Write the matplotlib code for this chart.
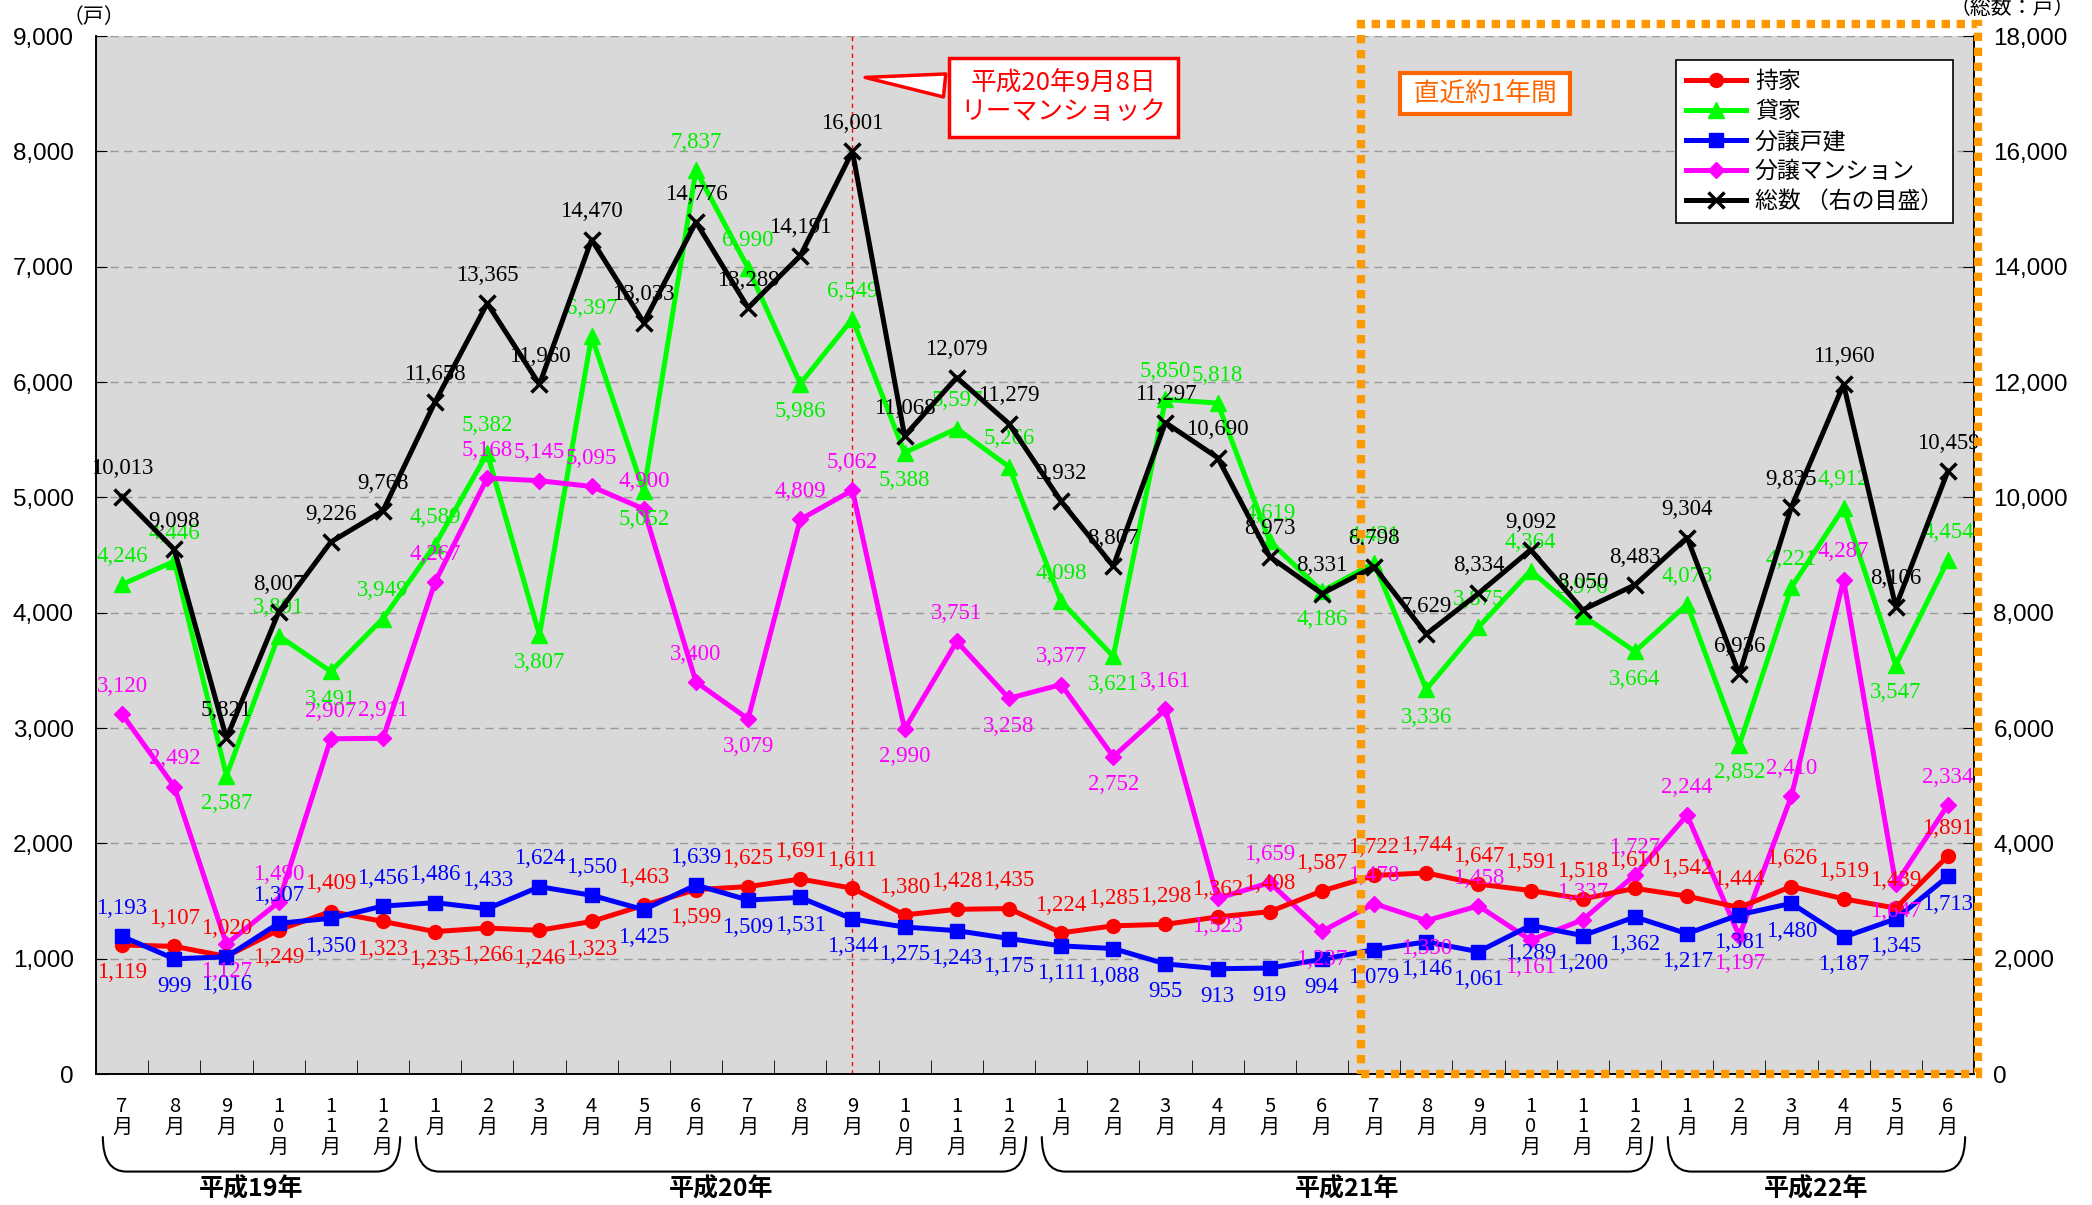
import numpy as np
import matplotlib
matplotlib.use('Agg')
import matplotlib.pyplot as plt
import matplotlib.transforms as mtransforms
from matplotlib.path import Path
from matplotlib.patches import PathPatch, Rectangle
from matplotlib.ticker import FuncFormatter, FixedLocator

plt.rcParams['font.family'] = ['Noto Sans CJK JP', 'DejaVu Sans']

# months from H19/7 to H22/6
months = [7, 8, 9, 10, 11, 12,
          1, 2, 3, 4, 5, 6, 7, 8, 9, 10, 11, 12,
          1, 2, 3, 4, 5, 6, 7, 8, 9, 10, 11, 12,
          1, 2, 3, 4, 5, 6]
years = ['平成19年', '平成20年', '平成21年', '平成22年']
year_len = [6, 12, 12, 6]

mochiie = [1119, 1107, 1020, 1249, 1409, 1323, 1235, 1266, 1246, 1323, 1463, 1599,
           1625, 1691, 1611, 1380, 1428, 1435, 1224, 1285, 1298, 1362, 1408, 1587,
           1722, 1744, 1647, 1591, 1518, 1610, 1542, 1444, 1626, 1519, 1439, 1891]
kashiya = [4246, 4446, 2587, 3801, 3491, 3949, 4589, 5382, 3807, 6397, 5052, 7837,
           6990, 5986, 6549, 5388, 5597, 5266, 4098, 3621, 5850, 5818, 4619, 4186,
           4431, 3336, 3875, 4364, 3976, 3664, 4073, 2852, 4221, 4912, 3547, 4454]
bunjo_kodate = [1193, 999, 1016, 1307, 1350, 1456, 1486, 1433, 1624, 1550, 1425, 1639,
                1509, 1531, 1344, 1275, 1243, 1175, 1111, 1088, 955, 913, 919, 994,
                1079, 1146, 1061, 1289, 1200, 1362, 1217, 1381, 1480, 1187, 1345, 1713]
bunjo_mansion = [3120, 2492, 1127, 1490, 2907, 2911, 4267, 5168, 5145, 5095, 4900, 3400,
                 3079, 4809, 5062, 2990, 3751, 3258, 3377, 2752, 3161, 1523, 1659, 1237,
                 1478, 1330, 1458, 1161, 1337, 1727, 2244, 1197, 2410, 4287, 1647, 2334]
soukei = [10013, 9098, 5821, 8007, 9226, 9768, 11658, 13365, 11960, 14470, 13033, 14776,
          13289, 14191, 16001, 11068, 12079, 11279, 9932, 8807, 11297, 10690, 8973, 8331,
          8798, 7629, 8334, 9092, 8050, 8483, 9304, 6936, 9835, 11960, 8106, 10459]

x = np.arange(len(months))
lehman_idx = 14          # H20/9
recent_start = 23.75     # between H21/6 and H21/7

fig = plt.figure(figsize=(20.92, 12.05), dpi=100)
ax = fig.add_axes([0.0459, 0.1087, 0.8977, 0.8613])
ax.set_facecolor('#d9d9d9')
ax2 = ax.twinx()

comma = FuncFormatter(lambda v, p: f'{int(v):,}')


def label_points(axis, xs, ys, color, where):
    for xi, yi, w in zip(xs, ys, where):
        off = 20 if w else -20
        axis.annotate(f'{yi:,}', (xi, yi), xytext=(0, off), textcoords='offset points',
                      ha='center', va='center', color=color, fontsize=16.5,
                      family='Liberation Serif', zorder=6)


def local_min(vals):
    out = []
    for i, v in enumerate(vals):
        if 0 < i < len(vals) - 1 and v < vals[i - 1] and v < vals[i + 1]:
            out.append(False)
        else:
            out.append(True)
    return out


lw = 3.6
ax.plot(x, mochiie, color='#ff0000', lw=lw, marker='o', ms=10, label='持家', zorder=4)
ax.plot(x, kashiya, color='#00ff00', lw=lw, marker='^', ms=12, label='貸家', zorder=3)
ax.plot(x, bunjo_kodate, color='#0000ff', lw=lw, marker='s', ms=10, label='分譲戸建', zorder=4)
ax.plot(x, bunjo_mansion, color='#ff00ff', lw=lw, marker='D', ms=8, label='分譲マンション', zorder=3)
ax2.plot(x, soukei, color='black', lw=lw, marker='x', ms=12, mew=2.5, label='総数 （右の目盛）', zorder=5)

red_up = [m >= b for m, b in zip(mochiie, bunjo_kodate)]
label_points(ax, x, mochiie, '#ff0000', red_up)
label_points(ax, x, bunjo_kodate, '#0000ff', [not u for u in red_up])
label_points(ax, x, kashiya, '#00ee00', local_min(kashiya))
label_points(ax, x, bunjo_mansion, '#ff00ff', local_min(bunjo_mansion))
label_points(ax2, x, soukei, 'black', [True] * len(soukei))

ax.set_xlim(-0.5, len(months) - 0.5)
ax.set_ylim(0, 9000)
ax2.set_ylim(0, 18000)
ax.set_yticks(np.arange(0, 9001, 1000))
ax2.set_yticks(np.arange(0, 18001, 2000))
ax.yaxis.set_major_formatter(comma)
ax2.yaxis.set_major_formatter(comma)
for t in ax.get_yticklabels() + ax2.get_yticklabels():
    t.set_family('Liberation Sans')
ax.tick_params(axis='y', direction='in', length=8, labelsize=17.5, pad=16)
ax2.tick_params(axis='y', direction='in', length=8, labelsize=17.5, pad=14)

ax.yaxis.grid(True, color='#9a9a9a', linestyle=(0, (6, 4)), lw=1)
ax.set_axisbelow(True)

ax.set_xticks(x)
ax.set_xticklabels(['\n'.join(str(m)) + '\n月' for m in months], fontsize=14.5,
                   linespacing=0.95, va='top')
ax.xaxis.set_minor_locator(FixedLocator(x[:-1] + 0.5))
ax.tick_params(axis='x', which='major', length=0, pad=16)
ax.tick_params(axis='x', which='minor', direction='in', length=10)

for a in (ax, ax2):
    a.spines['top'].set_visible(False)
    for s in ('left', 'bottom', 'right'):
        a.spines[s].set_color('black')
        a.spines[s].set_linewidth(1.2)

# Lehman shock line and callout
ax.axvline(lehman_idx, color='#ff0000', lw=1, linestyle=(0, (3, 3)), zorder=2)
blend = mtransforms.blended_transform_factory(ax2.transData, ax2.transAxes)
ax2.annotate('平成20年9月8日\nリーマンショック', xy=(14.19, 0.9605), xycoords=blend,
             xytext=(18.04, 0.941), textcoords=blend, ha='center', va='center',
             color='#ff0000', fontsize=18.5, linespacing=1.2, zorder=8,
             bbox=dict(boxstyle='square,pad=0.45', fc='white', ec='#ff0000', lw=2.5),
             arrowprops=dict(arrowstyle='wedge,tail_width=0.9,shrink_factor=0.5',
                             fc='white', ec='#ff0000', lw=2.5))

# recent one-year box
ax2.add_patch(Rectangle((recent_start, 0.0), len(months) - 0.42 - recent_start, 1.012,
                        transform=blend, fill=False, ec='#ff9900', lw=6,
                        linestyle=(0, (1, 0.8)), clip_on=False, zorder=9))
ax2.text(26.13, 0.9446, ' 直近約1年間 ', transform=blend, ha='center', va='center',
         color='#ff6600', fontsize=18.5, zorder=9,
         bbox=dict(boxstyle='square,pad=0.3', fc='white', ec='#ff6600', lw=3))

# year brackets under the month labels
btrans = mtransforms.blended_transform_factory(ax.transData, ax.transAxes)
start = 0
for name, n in zip(years, year_len):
    x0, x1 = start - 0.37, start + n - 1 + 0.33
    ytop, ybot, r = -0.06, -0.094, 0.45
    verts = [(x0, ytop), (x0, ybot), (x0 + r, ybot), (x1 - r, ybot), (x1, ybot), (x1, ytop)]
    codes = [Path.MOVETO, Path.CURVE3, Path.CURVE3, Path.LINETO, Path.CURVE3, Path.CURVE3]
    ax.add_patch(PathPatch(Path(verts, codes), transform=btrans, fill=False,
                           ec='black', lw=1.5, clip_on=False))
    ax.text((x0 + x1) / 2, -0.111, name, transform=btrans, ha='center', va='center',
            fontsize=18, fontweight='bold')
    start += n

ax.text(-0.001, 1.018, '（戸）', transform=ax.transAxes, ha='center', va='center', fontsize=15)
fig.text(0.962, 0.993, '（総数：戸）', ha='center', va='center', fontsize=15)

h1, l1 = ax.get_legend_handles_labels()
h2, l2 = ax2.get_legend_handles_labels()
leg = ax2.legend(h1 + h2, l1 + l2, loc='upper right', bbox_to_anchor=(0.989, 0.977),
                 borderaxespad=0, fontsize=16.5, frameon=True, fancybox=False,
                 edgecolor='black', framealpha=1, handlelength=2.6, numpoints=1,
                 labelspacing=0.3, handletextpad=0.4, borderpad=0.45)
leg.get_frame().set_linewidth(1.2)
leg.set_zorder(10)

fig.savefig('out.png', dpi=100)
